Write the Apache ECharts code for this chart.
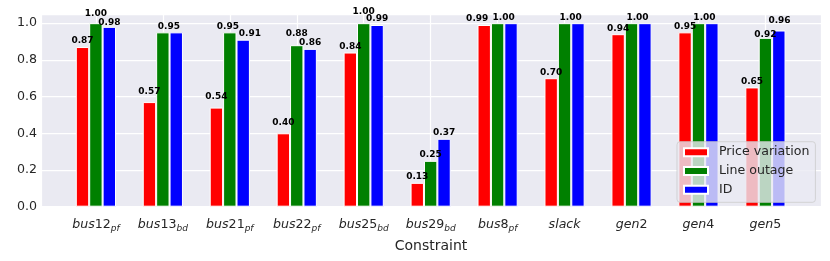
<!DOCTYPE html>
<html><head><meta charset="utf-8">
<script src="https://cdn.jsdelivr.net/npm/echarts@6/dist/echarts.min.js"></script>
<style>html,body{margin:0;padding:0;background:#fff}#c{width:830px;height:261px}</style>
</head><body><div id="c"></div>
<script>
// ---- data ----
const categories = ['bus12', 'bus13', 'bus21', 'bus22', 'bus25', 'bus29', 'bus8', 'slack', 'gen2', 'gen4', 'gen5'];
const subscripts = ['pf', 'bd', 'pf', 'pf', 'bd', 'bd', 'pf', '', '', '', ''];
const priceVariation = [0.87, 0.57, 0.54, 0.40, 0.84, 0.13, 0.99, 0.70, 0.94, 0.95, 0.65];
const lineOutage = [1.00, 0.95, 0.95, 0.88, 1.00, 0.25, 1.00, 1.00, 1.00, 1.00, 0.92];
const idScores = [0.98, 0.95, 0.91, 0.86, 0.99, 0.37, 1.00, 1.00, 1.00, 1.00, 0.96];
const seriesNames = ['Price variation', 'Line outage', 'ID'];
const yTicks = [0.0, 0.2, 0.4, 0.6, 0.8, 1.0];

// ---- style ----
const colors = ['#ff0000', '#008000', '#0000ff'];
const FONT = 'DejaVu Sans';
const TXT = '#262626';
// label nudges [dx, dy] (px) per series / category index, mimicking the reference's text placement
const labelNudge = [
  {1: [0, -4.7], 2: [0, -4.6], 3: [0, -4.3], 6: [-7, 0]},
  {0: [0, -3.8], 2: [-1.9, 0], 3: [0, -5.5], 4: [0, -5.8], 10: [0, 2.8]},
  {0: [0, 1.5], 2: [6.7, 0], 10: [0.7, -4.1]}
];

const allSeries = [priceVariation, lineOutage, idScores];

function buildData(si) {
  return allSeries[si].map((v, k) => {
    const item = {value: [k, v]};
    const same = lineOutage[k] === idScores[k];
    let off = labelNudge[si][k] || [0, 0];
    if (same && si === 1) off = [6, off[1]];
    if (same && si === 2) { item.label = {show: false}; return item; }
    item.label = {offset: off};
    return item;
  });
}

function xLabel(value) {
  const k = Math.round(value);
  if (Math.abs(value - k) > 1e-6 || k < 0 || k >= categories.length) return '';
  const name = categories[k].replace(/([a-z]+)/g, '{i|$1}').replace(/(\d+)/g, '{d|$1}');
  return name + (subscripts[k] ? '{s|' + subscripts[k] + '}' : '');
}

const chart = echarts.init(document.getElementById('c'), null, {renderer: 'canvas'});
chart.setOption({
  animation: false,
  backgroundColor: '#ffffff',
  textStyle: {fontFamily: FONT},
  grid: {left: 41, right: 9, top: 14, bottom: 54.3, show: true, backgroundColor: '#eaeaf2', borderWidth: 0},
  legend: {
    orient: 'vertical', left: 677, top: 141.7,
    data: seriesNames, icon: 'rect', itemWidth: 24, itemHeight: 8, itemGap: 3.8,
    padding: [3, 6, 5, 6],
    backgroundColor: 'rgba(234,234,242,0.8)', borderColor: 'rgba(204,204,204,0.8)', borderWidth: 1, borderRadius: 3,
    textStyle: {fontFamily: FONT, fontSize: 12.6, color: TXT, lineHeight: 15, padding: [0, 0, 0, 6]}
  },
  xAxis: {
    type: 'value', min: -0.82, max: 10.83, minInterval: 1, maxInterval: 1,
    name: 'Constraint', nameLocation: 'middle', nameGap: 33,
    nameTextStyle: {fontFamily: FONT, fontSize: 14, color: TXT},
    axisLine: {show: false}, axisTick: {show: false},
    splitLine: {show: true, lineStyle: {color: '#ffffff', width: 1.25}},
    axisLabel: {
      margin: 11, formatter: xLabel, showMinLabel: false, showMaxLabel: false,
      rich: {
        i: {fontFamily: FONT, fontStyle: 'italic', fontSize: 12.6, color: TXT, lineHeight: 15},
        d: {fontFamily: FONT, fontSize: 12.6, color: TXT, lineHeight: 15},
        s: {fontFamily: FONT, fontStyle: 'italic', fontSize: 9, color: TXT, lineHeight: 10, padding: [6, 0, 0, 0]}
      }
    }
  },
  yAxis: {
    type: 'value', min: 0, max: 1.05, interval: 0.2,
    axisLine: {show: false}, axisTick: {show: false},
    splitLine: {show: true, lineStyle: {color: '#ffffff', width: 1.25}},
    axisLabel: {
      margin: 4, fontFamily: FONT, fontSize: 12.6, color: TXT,
      formatter: v => (yTicks.some(t => Math.abs(t - v) < 1e-6) ? v.toFixed(1) : '')
    }
  },
  series: seriesNames.map((name, si) => ({
    name: name, type: 'bar', barWidth: 13.4, barGap: '0%',
    itemStyle: {color: colors[si], borderColor: '#ffffff', borderWidth: 1},
    label: {
      show: true, position: 'top', distance: 1.5,
      fontFamily: FONT, fontSize: 9, fontWeight: 'bold', color: '#000000',
      formatter: p => p.value[1].toFixed(2)
    },
    data: buildData(si)
  }))
});
</script>
</body></html>
